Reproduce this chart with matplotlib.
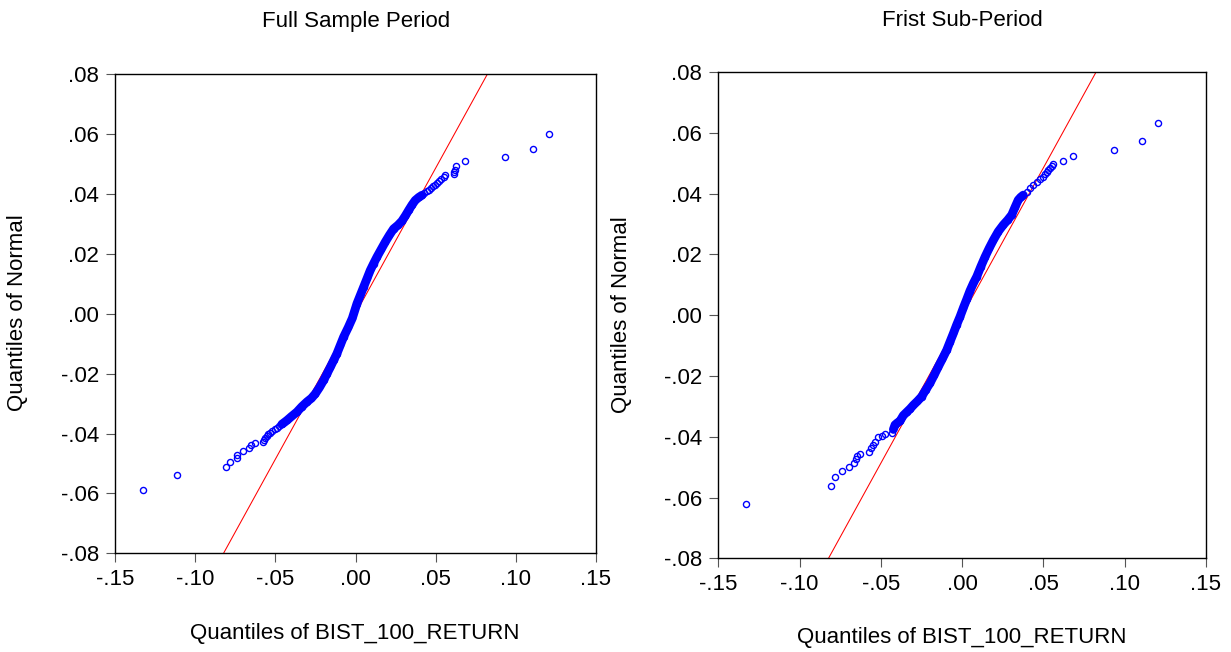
import matplotlib
matplotlib.use("Agg")
import matplotlib.pyplot as plt
import numpy as np

plt.rcParams['font.family'] = ['Liberation Sans', 'DejaVu Sans']

full_pts = [
    (-0.1330, -0.0589), (-0.1112, -0.0538), (-0.0810, -0.0513), (-0.0781, -0.0495),
    (-0.0741, -0.0482), (-0.0741, -0.0473), (-0.0704, -0.0459), (-0.0664, -0.0448),
    (-0.0652, -0.0439), (-0.0629, -0.0431), (-0.0577, -0.0427), (-0.0570, -0.0420),
    (-0.0564, -0.0415), (-0.0555, -0.0408), (-0.0545, -0.0402), (-0.0533, -0.0398),
    (-0.0520, -0.0392), (-0.0505, -0.0386), (-0.0490, -0.0380), (-0.0475, -0.0375),
    (-0.0460, -0.0369), (-0.0445, -0.0363), (-0.0428, -0.0356), (-0.0400, -0.0343),
    (-0.0366, -0.0328), (-0.0335, -0.0310), (-0.0303, -0.0294), (-0.0275, -0.0282),
    (-0.0251, -0.0267), (-0.0225, -0.0246), (-0.0199, -0.0222), (-0.0178, -0.0200),
    (-0.0157, -0.0178), (-0.0136, -0.0155), (-0.0116, -0.0133), (-0.0095, -0.0105),
    (-0.0074, -0.0077), (-0.0045, -0.0045), (-0.0020, -0.0015), (0.0009, 0.0034),
    (0.0030, 0.0062), (0.0051, 0.0090), (0.0072, 0.0118), (0.0092, 0.0145),
    (0.0113, 0.0168), (0.0134, 0.0190), (0.0160, 0.0215), (0.0186, 0.0240),
    (0.0212, 0.0263), (0.0238, 0.0284), (0.0265, 0.0296), (0.0290, 0.0310),
    (0.0312, 0.0328), (0.0332, 0.0346), (0.0353, 0.0364), (0.0373, 0.0379),
    (0.0395, 0.0389), (0.0415, 0.0396), (0.0430, 0.0403), (0.0445, 0.0410),
    (0.0458, 0.0414), (0.0470, 0.0420), (0.0485, 0.0426), (0.0498, 0.0431),
    (0.0510, 0.0437), (0.0522, 0.0443), (0.0535, 0.0450), (0.0550, 0.0457),
    (0.0560, 0.0463), (0.0612, 0.0468), (0.0616, 0.0475), (0.0620, 0.0482),
    (0.0629, 0.0493), (0.0685, 0.0509), (0.0935, 0.0524), (0.1108, 0.0551),
    (0.1208, 0.0602),
]

# First sub-period
sub_pts = [
    (-0.1328, -0.0620), (-0.0807, -0.0561), (-0.0780, -0.0532), (-0.0737, -0.0513),
    (-0.0694, -0.0499), (-0.0665, -0.0485), (-0.0655, -0.0472), (-0.0649, -0.0463),
    (-0.0627, -0.0456), (-0.0571, -0.0450), (-0.0563, -0.0438), (-0.0550, -0.0427),
    (-0.0536, -0.0416), (-0.0516, -0.0402), (-0.0495, -0.0398), (-0.0475, -0.0391),
    (-0.0433, -0.0387), (-0.0423, -0.0376), (-0.0413, -0.0361), (-0.0400, -0.0355),
    (-0.0382, -0.0348), (-0.0362, -0.0330), (-0.0341, -0.0319), (-0.0320, -0.0308),
    (-0.0300, -0.0296), (-0.0275, -0.0283), (-0.0249, -0.0268), (-0.0224, -0.0246),
    (-0.0198, -0.0224), (-0.0172, -0.0197), (-0.0147, -0.0170), (-0.0121, -0.0143),
    (-0.0095, -0.0115), (-0.0075, -0.0088), (-0.0054, -0.0060), (-0.0034, -0.0032),
    (-0.0013, -0.0005), (0.0008, 0.0025), (0.0028, 0.0052), (0.0048, 0.0080),
    (0.0069, 0.0105), (0.0090, 0.0127), (0.0115, 0.0160), (0.0141, 0.0192),
    (0.0166, 0.0220), (0.0192, 0.0247), (0.0222, 0.0275), (0.0253, 0.0297),
    (0.0280, 0.0313), (0.0305, 0.0330), (0.0325, 0.0355), (0.0345, 0.0379),
    (0.0360, 0.0388), (0.0376, 0.0395), (0.0397, 0.0406), (0.0417, 0.0417),
    (0.0438, 0.0428), (0.0459, 0.0439), (0.0480, 0.0448), (0.0499, 0.0456),
    (0.0510, 0.0464), (0.0520, 0.0472), (0.0530, 0.0478), (0.0540, 0.0483),
    (0.0550, 0.0490), (0.0557, 0.0497), (0.0622, 0.0508), (0.0684, 0.0524),
    (0.0936, 0.0543), (0.1108, 0.0573), (0.1207, 0.0631),
]

# reference lines (end points at the axis limits)
full_line_x = [-0.0824, 0.0823]
sub_line_x = [-0.0822, 0.0824]
line_y = [-0.08, 0.08]

# range where the points merge into a solid band
full_band = (-0.047, 0.042)
sub_band = (-0.043, 0.039)

xticks = [-0.15, -0.10, -0.05, 0.00, 0.05, 0.10, 0.15]
xtick_labels = ['-.15', '-.10', '-.05', '.00', '.05', '.10', '.15']
yticks = [-0.08, -0.06, -0.04, -0.02, 0.00, 0.02, 0.04, 0.06, 0.08]
ytick_labels = ['-.08', '-.06', '-.04', '-.02', '.00', '.02', '.04', '.06', '.08']

W, H = 1231, 652
fig = plt.figure(figsize=(W / 100, H / 100), dpi=100)


def px_axes(l, t, r, b):
    return fig.add_axes([l / W, 1 - b / H, (r - l) / W, (b - t) / H])


def draw_panel(ax, pts, line_x, band):
    arr = np.array(pts)
    x, y = arr[:, 0], arr[:, 1]
    ax.plot(line_x, line_y, color='red', lw=0.75, zorder=2)
    m = (x >= band[0]) & (x <= band[1])
    ax.plot(x[m], y[m], color='blue', lw=6.3, solid_capstyle='round',
            solid_joinstyle='round', zorder=3)
    ax.plot(x, y, ls='none', marker='o', ms=4.4, mfc='none', mec='blue', mew=1.0, zorder=4)
    ax.set_xlim(-0.15, 0.15)
    ax.set_ylim(-0.08, 0.08)
    ax.set_xticks(xticks)
    ax.set_xticklabels(xtick_labels)
    ax.set_yticks(yticks)
    ax.set_yticklabels(ytick_labels)
    ax.tick_params(direction='out', length=6.5, width=0.8, color='#555555',
                   labelsize=16, pad=5)
    for s in ax.spines.values():
        s.set_linewidth(1.0)
        s.set_color('black')


ax1 = px_axes(115.3, 74.3, 595.7, 553.3)
draw_panel(ax1, full_pts, full_line_x, full_band)
ax2 = px_axes(718.3, 72.0, 1206.0, 558.3)
draw_panel(ax2, sub_pts, sub_line_x, sub_band)

fig.text(356 / W, 1 - 22 / H, 'Full Sample Period', ha='center', va='center', fontsize=16)
fig.text(962 / W, 1 - 20 / H, 'Frist Sub-Period', ha='center', va='center', fontsize=16)
fig.text(355 / W, 1 - 634 / H, 'Quantiles of BIST_100_RETURN', ha='center', va='center', fontsize=16)
fig.text(962 / W, 1 - 638 / H, 'Quantiles of BIST_100_RETURN', ha='center', va='center', fontsize=16)
fig.text(18 / W, 1 - 313 / H, 'Quantiles of Normal', rotation=90, ha='center', va='center', fontsize=16)
fig.text(622 / W, 1 - 315 / H, 'Quantiles of Normal', rotation=90, ha='center', va='center', fontsize=16)

fig.savefig('out.png', dpi=100)
